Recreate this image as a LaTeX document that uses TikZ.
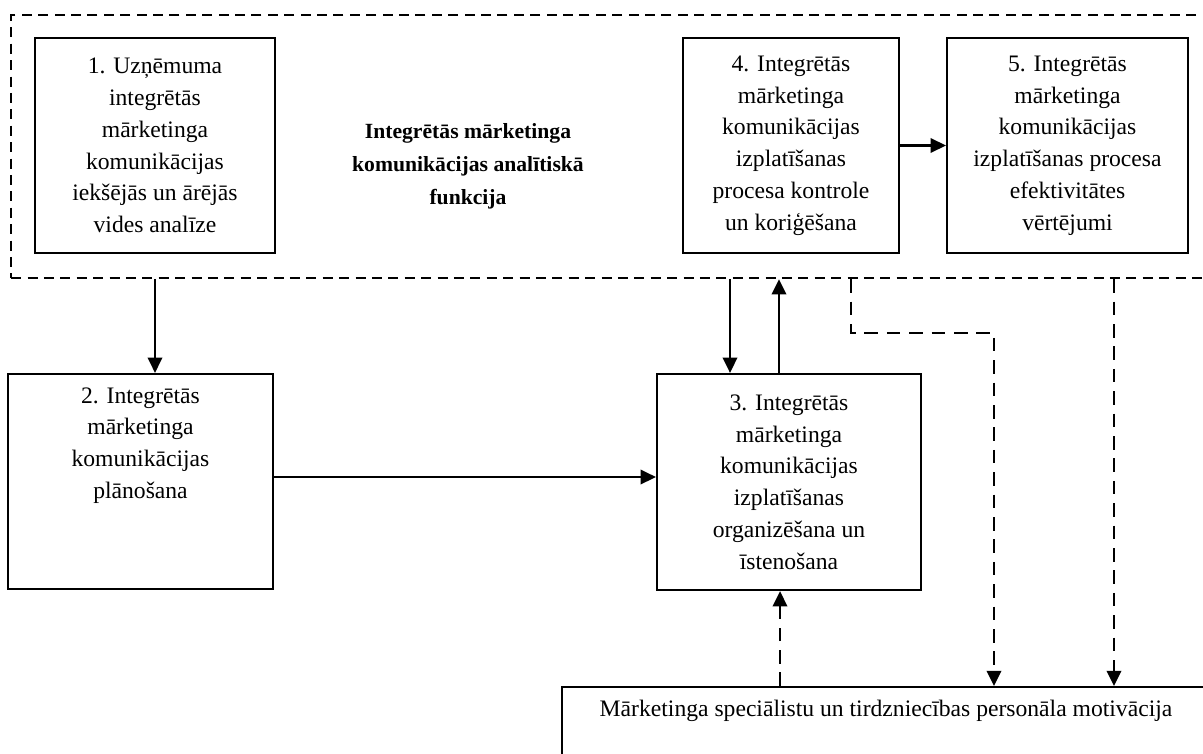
\documentclass[tikz,border=0pt]{standalone}
\usepackage{fontspec}
\setmainfont{Liberation Serif}
\usetikzlibrary{arrows.meta,positioning,fit}

\tikzset{
  bloks/.style={draw, line width=1.6pt, align=center, inner sep=0pt,
    font=\fontsize{16.8}{22.6}\selectfont},
  teksts/.style={align=center, inner sep=0pt, font=\fontsize{16.8}{22.6}\selectfont},
  ramis/.style={draw, line width=1.6pt, dash pattern=on 0.25cm off 0.16cm},
  bulta/.style={line width=1.6pt, -{Triangle[length=0.38cm,width=0.36cm]}},
  svbulta/.style={bulta, dash pattern=on 0.34cm off 0.22cm},
}

\begin{document}
\begin{tikzpicture}
\useasboundingbox (0,0) rectangle (30.075,-18.85);
% analitiska funkcija
\node[ramis, anchor=north west, minimum width=31cm, minimum height=6.575cm] (funkcija) at (0.25,-0.35) {};
\node[bloks, minimum width=6cm, minimum height=5.375cm] (b1) at (3.875,-3.6375) {1. Uzņēmuma\\ integrētās\\ mārketinga\\ komunikācijas\\ iekšējās un ārējās\\ vides analīze};
\node[teksts, font=\bfseries\fontsize{15.4}{23.4}\selectfont] (virsraksts) at (11.7,-4.15) {Integrētās mārketinga\\ komunikācijas analītiskā\\ funkcija};
\node[bloks, minimum width=5.4cm, minimum height=5.375cm] (b4) at (19.775,-3.6375) {4. Integrētās\\ mārketinga\\ komunikācijas\\ izplatīšanas\\ procesa kontrole\\ un koriģēšana};
\node[bloks, minimum width=6.025cm, minimum height=5.375cm] (b5) at (26.6875,-3.6375) {5. Integrētās\\ mārketinga\\ komunikācijas\\ izplatīšanas procesa\\ efektivitātes\\ vērtējumi};

% planosana, istenosana
\node[bloks, minimum width=6.625cm, minimum height=5.375cm] (b2) at (3.5125,-12.0375) {};
\node[teksts, anchor=north] (b2teksts) at ([yshift=-0.36cm]b2.north) {2. Integrētās\\ mārketinga\\ komunikācijas\\ plānošana};
\node[bloks, minimum width=6.6cm, minimum height=5.4cm] (b3) at (19.725,-12.05) {3. Integrētās\\ mārketinga\\ komunikācijas\\ izplatīšanas\\ organizēšana un\\ īstenošana};

% motivacija
\node[bloks, anchor=north west, minimum width=17cm, minimum height=3cm] (motiv) at (14.025,-17.15) {};
\node[teksts] (motivteksts) at (22.15,-17.78) {Mārketinga speciālistu un tirdzniecības personāla motivācija};

% bultas
\draw[bulta] (b1.south |- funkcija.south) -- (b1.south |- b2.north);
\draw[bulta] (b2.east |- 0,-11.925) -- (b3.west |- 0,-11.925);
\draw[bulta] (b4.east) -- (b5.west);
\draw[bulta] (18.25,0 |- funkcija.south) -- (18.25,0 |- b3.north);
\draw[bulta] (19.475,0 |- b3.north) -- (19.475,0 |- funkcija.south);
\draw[svbulta] (21.275,0 |- funkcija.south) |- (24.85,-8.325) -- (24.85,0 |- motiv.north);
\draw[svbulta] (27.85,0 |- funkcija.south) -- (27.85,0 |- motiv.north);
\draw[svbulta] (19.5,0 |- motiv.north) -- (19.5,0 |- b3.south);
\end{tikzpicture}
\end{document}
